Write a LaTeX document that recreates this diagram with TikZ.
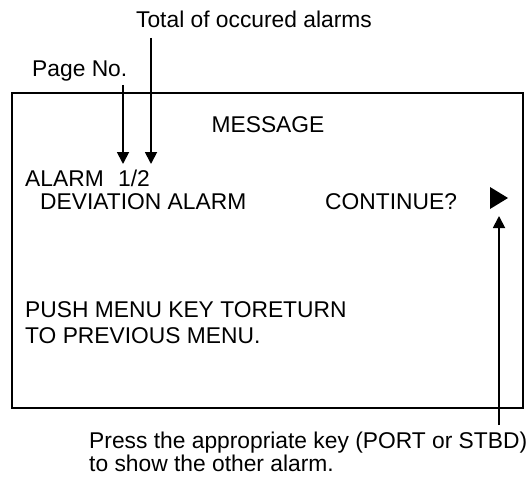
\documentclass[tikz,border=0pt]{standalone}
\usepackage{fontspec}
\setmainfont{Liberation Sans}
\usetikzlibrary{arrows.meta, positioning, calc}
\tikzset{
    txt/.style={inner sep=0pt, font=\fontsize{22.8}{27}\selectfont, anchor=base west},
    panel/.style={draw=black, line width=1.3pt},
    arr/.style={-{Triangle[length=12pt, width=12pt]}, line width=1.8pt, black},
    cursor/.style={fill=black}
}
\begin{document}
\begin{tikzpicture}[x=1pt, y=-1pt]
        \useasboundingbox (0,0) rectangle (532,484);
        % labels above the screen
        \node[txt, anchor=base] (total) at (254,28) {Total of occured alarms};
        \node[txt] (pageno) at (32,77) {Page No.};

        % the screen
        \draw[panel] (12,93) rectangle (523,408);
        \node[txt, anchor=base] (msg) at (268,132) {MESSAGE};
        \node[txt] (alarm) at (25,186) {ALARM};
        \node[txt] (num) at (118,186) {1/2};
        \node[txt] (dev) at (40,209) {DEVIATION ALARM};
        \node[txt] (cont) at (325,209) {CONTINUE?};
        \fill[cursor] (490,187) -- (508,198) -- (490,209) -- cycle;
        \node[txt] (push) at (25,317) {PUSH MENU KEY TORETURN};
        \node[txt] (prev) at (25,343) {TO PREVIOUS MENU.};

        % note below the screen
        \node[txt] (press) at (89,448) {Press the appropriate key (PORT or STBD)};
        \node[txt] (show) at (89,471) {to show the other alarm.};

        \coordinate (pgtop) at (123,85);
        \coordinate (pgtip) at (123,164);
        \coordinate (tottop) at (151,38);
        \coordinate (tottip) at (151,164);
        \coordinate (keyend) at (499,425);
        \coordinate (keytip) at (499,216);
        \draw[arr] (pgtop)--(pgtip);
        \draw[arr] (tottop)--(tottip);
        \draw[arr] (keyend)--(keytip);
    \end{tikzpicture}
\end{document}
